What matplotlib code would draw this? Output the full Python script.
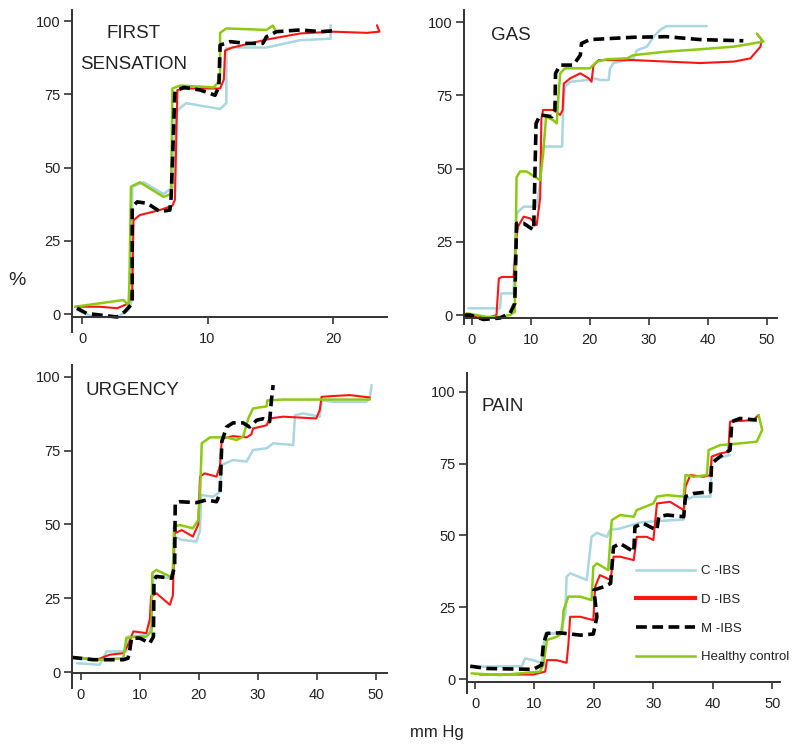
import matplotlib
matplotlib.use("Agg")
import matplotlib.pyplot as plt
from matplotlib.lines import Line2D

plt.rcParams['font.family'] = ['Liberation Sans', 'DejaVu Sans']

# ---------------- data (x = mm Hg, y = %) ----------------
series_labels = ["C -IBS", "D -IBS", "M -IBS", "Healthy control"]
panel_titles = ["FIRST\nSENSATION", "GAS", "URGENCY", "PAIN"]
y_ticks = [0, 25, 50, 75, 100]
x_ticks_first = [0, 10, 20]
x_ticks_other = [0, 10, 20, 30, 40, 50]

# FIRST SENSATION
fs_c_x = [-0.4, 0.9, 2.8, 3.7, 4.0, 4.0, 4.9, 6.5, 7.3, 7.4, 7.7, 8.3, 11.0, 11.5, 11.5, 12.0, 14.7, 17.4, 19.8, 19.8]
fs_c_y = [1.4, -1, -1, 1.4, 5, 43.5, 45, 41, 43.5, 68.5, 70, 72, 70, 72, 90.7, 91, 91, 93.5, 94, 98.6]
fs_d_x = [-0.56, 1.4, 2.8, 3.7, 4.0, 4.1, 4.6, 6.2, 7.2, 7.4, 7.6, 8.3, 11.0, 11.3, 11.4, 12.0, 14.7, 17.4, 20.0, 22.7, 23.7, 23.5]
fs_d_y = [2.5, 2.5, 2, 3.6, 8, 32, 33.8, 35.5, 37, 39, 76.5, 77, 77, 80, 90, 91, 93.7, 95.8, 96.4, 96, 96.4, 98.6]
fs_m_x = [-0.4, 0.37, 1.4, 2.8, 3.4, 4.0, 4.0, 4.4, 5.2, 6.2, 7.0, 7.1, 7.4, 8.1, 9.4, 10.6, 10.9, 11.0, 11.8, 13.1, 14.4, 14.7, 15.5, 17.4, 19.0, 20.0]
fs_m_y = [2, 0.2, -0.3, -1, 0.8, 3.6, 36.6, 38.3, 37.8, 35, 35.5, 40, 76, 77.4, 76.5, 74.7, 77.6, 91.8, 93, 92.4, 92.4, 94.7, 96.4, 97, 96.4, 96.7]
fs_h_x = [-0.56, 3.3, 3.7, 3.77, 3.9, 4.6, 6.5, 7.1, 7.2, 7.8, 10.5, 11.0, 11.0, 11.5, 14.7, 15.2, 15.4]
fs_h_y = [2.5, 4.8, 3, 10, 43.5, 45, 40, 41, 77, 78, 77.4, 80, 96, 97.5, 97, 98.5, 97]

# GAS
gas_c_x = [-0.56, 4.8, 5.0, 5.4, 7.1, 7.3, 7.6, 8.8, 11.0, 11.6, 11.8, 13.0, 15.3, 15.5, 15.8, 16.7, 19.5, 20.6, 21.8, 23.2, 23.4, 24.0, 25.1, 27.4, 28.0, 29.7, 30.8, 31.9, 33.0, 39.8]
gas_c_y = [2.3, 2.3, 7.4, 7.4, 7.4, 20, 34.7, 37, 37, 45, 57.5, 57.5, 57.5, 70, 78, 79.6, 80.2, 80.8, 80.2, 80.2, 84, 86, 86.5, 87.5, 90.4, 91.6, 95, 97.3, 98.6, 98.6]
gas_d_x = [-1.4, 2.5, 4.2, 4.6, 5.1, 7.1, 7.5, 7.8, 8.8, 9.9, 11.0, 11.6, 11.8, 12.1, 13.8, 15.0, 15.4, 15.6, 16.7, 18.4, 19.8, 20.3, 20.6, 21.5, 27.4, 33.0, 38.7, 44.4, 47.2, 48.9, 49.1, 48.3]
gas_d_y = [0, -1.1, 0, 12.5, 13, 13, 25, 30, 33.6, 33, 30.7, 40, 67, 70, 70, 68.3, 70, 79, 80.8, 82.5, 80.8, 79.6, 85, 87, 87, 86.5, 86, 86.5, 87.6, 91.6, 93.9, 96]
gas_m_x = [-1.4, -0.3, 2.0, 4.8, 6.5, 7.3, 7.6, 8.8, 10.5, 10.9, 11.6, 13.6, 14.1, 14.2, 15.0, 17.2, 18.4, 18.6, 20.0, 27.4, 33.0, 38.7, 46.0]
gas_m_y = [0, 0, -1.5, -1, 0.6, 4, 31.3, 31.3, 29, 65.4, 68.3, 67.7, 70, 82.5, 85.3, 85.3, 88.7, 92.7, 94, 94.8, 95, 94, 93.6]
gas_h_x = [-0.85, 2.5, 4.8, 6.5, 7.3, 7.6, 8.2, 9.3, 11.6, 12.1, 12.6, 13.8, 14.4, 14.7, 15.0, 15.8, 18.4, 20.0, 21.2, 22.9, 26.3, 27.4, 33.0, 38.7, 44.4, 49.4, 48.3]
gas_h_y = [0.6, -0.6, -0.6, 0, 1.1, 47, 49, 49, 46, 55, 67.7, 66.5, 65.4, 75, 82.5, 84.2, 84.2, 84.2, 86.5, 87.3, 87.6, 88.7, 89.9, 90.7, 91.6, 93.3, 96]

# URGENCY
urg_c_x = [-0.7, 3.2, 4.1, 4.4, 7.7, 7.9, 9.4, 11.7, 12.0, 12.3, 15.1, 15.6, 15.8, 17.1, 19.6, 20.2, 20.4, 22.4, 23.6, 23.8, 25.8, 28.1, 29.2, 31.5, 32.6, 36.0, 36.3, 37.7, 40.5, 40.8, 42.8, 48.4, 49.0, 49.3]
urg_c_y = [3, 2.5, 6, 7, 7, 12, 12, 13.2, 25, 32.4, 31.8, 34, 45.9, 44.8, 44.2, 48, 60, 59.4, 61, 70.1, 71.8, 71.3, 75.2, 75.8, 77.5, 76.9, 87, 87.6, 86.5, 92.1, 91.5, 91.5, 93.2, 97.2]
urg_d_x = [-0.2, 2.7, 4.9, 7.2, 8.0, 8.9, 11.1, 11.7, 11.9, 12.8, 15.1, 15.6, 15.9, 17.1, 19.0, 19.9, 20.2, 21.0, 23.0, 23.6, 23.9, 25.8, 28.1, 28.9, 29.2, 31.5, 32.0, 34.3, 39.9, 40.5, 40.8, 42.8, 45.6, 49.0]
urg_d_y = [4.7, 4.2, 5.9, 6.4, 9.2, 13.8, 13.2, 18, 25.6, 26.7, 22.8, 26, 47, 48.1, 45.9, 50, 66.2, 67.3, 66.2, 70, 79.1, 79.9, 79.5, 80.5, 82.5, 83.6, 85.9, 86.5, 85.9, 88.7, 93.2, 93.5, 93.8, 93]
urg_m_x = [-1.6, -0.2, 2.1, 7.2, 8.0, 8.3, 8.6, 10.0, 11.7, 12.3, 12.4, 12.8, 15.4, 15.9, 16.0, 16.8, 19.6, 21.3, 23.0, 23.6, 23.9, 24.7, 25.8, 27.5, 28.6, 29.8, 30.9, 32.0, 32.3, 32.6]
urg_m_y = [5, 4.7, 4.2, 4.2, 4.7, 7.6, 11.5, 11.5, 9.8, 12, 31.2, 32.4, 31.8, 36, 57.2, 57.7, 57.4, 58.3, 57.7, 60.5, 78, 83, 84.4, 84.4, 83, 85.3, 85.8, 84.8, 92, 97.2]
urg_h_x = [-1.0, 3.2, 7.2, 7.7, 9.4, 11.1, 12.0, 12.1, 12.8, 15.1, 15.6, 15.8, 16.8, 19.0, 19.9, 20.2, 20.5, 21.9, 24.7, 26.4, 27.5, 28.4, 29.2, 31.5, 31.6, 34.3, 42.8, 49.0]
urg_h_y = [5, 4.2, 4.7, 11.5, 12, 12, 14, 33.5, 34.6, 32.4, 33.5, 49.3, 49.8, 48.7, 51.5, 60, 77.5, 79.5, 79.5, 78.6, 79.7, 86, 89.3, 90, 92, 92.3, 92.3, 92.3]

# PAIN
pain_c_x = [-0.6, 7.9, 8.4, 9.8, 11.2, 11.8, 14.3, 15.2, 15.4, 16.0, 18.8, 19.6, 20.5, 22.2, 22.7, 24.4, 27.8, 30.6, 35.1, 35.4, 36.8, 39.6, 39.8, 42.9]
pain_c_y = [4.3, 4.5, 7.2, 6.6, 5.5, 15.9, 15.9, 22.9, 35.6, 36.8, 34.5, 49.5, 50.9, 49.5, 51.9, 52.4, 54.5, 55, 55.5, 62.3, 63.5, 63.5, 76.2, 78]
pain_d_x = [0.8, 9.8, 11.8, 12.1, 13.7, 15.4, 15.7, 16.0, 17.7, 19.9, 20.2, 21.0, 22.8, 23.3, 24.4, 26.7, 27.2, 28.9, 30.0, 30.6, 32.8, 35.1, 35.4, 36.2, 38.4, 39.6, 39.8, 41.2, 42.6, 42.9, 46.8, 47.7]
pain_d_y = [1.6, 1.6, 2.6, 6.6, 6.6, 5.7, 12, 21.7, 21.7, 20.5, 32.1, 36.2, 34.5, 42.6, 42.6, 41.4, 49.5, 49.5, 48.4, 61.1, 61.7, 58.8, 66.9, 71, 70.4, 71, 77.4, 78.5, 79.1, 89.6, 90.1, 91.9]
pain_m_x = [-0.8, 2.0, 9.8, 11.2, 11.5, 12.1, 14.3, 17.7, 19.9, 20.5, 20.0, 21.6, 22.8, 23.3, 24.4, 26.7, 26.9, 28.3, 30.0, 30.6, 30.9, 32.3, 35.1, 35.4, 36.8, 39.6, 39.8, 41.2, 42.9, 43.2, 44.6, 47.4]
pain_m_y = [4.5, 3.7, 3.4, 4.9, 12.4, 15.9, 16.1, 15.3, 15.7, 21.7, 31, 32.1, 33.3, 46, 47.2, 44.3, 53, 54.2, 52.4, 51.9, 56.5, 57.1, 56.5, 63.5, 64.6, 65.2, 75, 77.4, 79.7, 89.6, 90.7, 90.1]
pain_h_x = [-0.6, 4.2, 10.9, 11.5, 12.1, 13.7, 14.6, 14.9, 15.7, 17.7, 19.6, 19.9, 20.5, 22.4, 23.0, 24.4, 26.7, 27.2, 30.0, 30.6, 32.3, 35.1, 35.4, 36.8, 39.0, 39.3, 41.2, 43.5, 47.4, 48.3, 47.7]
pain_h_y = [2, 1.4, 2.6, 4.9, 13.6, 14.7, 15.9, 24, 28.7, 28.7, 27.5, 39.1, 40.3, 37.9, 55.3, 57.1, 56.5, 58.8, 61.1, 63.5, 64, 63.5, 71, 70.4, 71, 79.7, 81.4, 81.8, 82.6, 86.7, 91.9]

# ---------------- styling ----------------
styles = [
    dict(color="#a9d6df", lw=1.8, ls="-"),
    dict(color="#ff1414", lw=1.5, ls="-"),
    dict(color="#000000", lw=2.6, ls=(0, (3.0, 1.5))),
    dict(color="#8cc814", lw=1.8, ls="-"),
]
draw_order = [0, 1, 3, 2]
AX_COL = "#333333"
TXT_COL = "#222222"

W, H = 800, 756
fig = plt.figure(figsize=(W / 100, H / 100), dpi=100)
fig.patch.set_facecolor("white")


def px_axes(left, right, top, bottom):
    return fig.add_axes([left / W, 1 - bottom / H, (right - left) / W, (bottom - top) / H])


panels = [
    dict(box=(72, 387, 10, 317), xlim=(-0.8, 24.3), ylim=(-1.0, 103.8), spine_low=-6.0,
         xt=x_ticks_first,
         data=[(fs_c_x, fs_c_y), (fs_d_x, fs_d_y), (fs_m_x, fs_m_y), (fs_h_x, fs_h_y)],
         title_xy=(134, 49)),
    dict(box=(464, 777, 10, 318), xlim=(-1.3, 51.7), ylim=(-1.0, 104.1), spine_low=-3.0,
         xt=x_ticks_other,
         data=[(gas_c_x, gas_c_y), (gas_d_x, gas_d_y), (gas_m_x, gas_m_y), (gas_h_x, gas_h_y)],
         title_xy=(511, 35)),
    dict(box=(72, 387, 365, 673), xlim=(-1.5, 51.9), ylim=(-0.3, 104.0), spine_low=-5.3,
         xt=x_ticks_other,
         data=[(urg_c_x, urg_c_y), (urg_d_x, urg_d_y), (urg_m_x, urg_m_y), (urg_h_x, urg_h_y)],
         title_xy=(132, 390)),
    dict(box=(467, 780, 373, 682), xlim=(-1.35, 51.3), ylim=(-1.0, 106.5), spine_low=-4.9,
         xt=x_ticks_other,
         data=[(pain_c_x, pain_c_y), (pain_d_x, pain_d_y), (pain_m_x, pain_m_y), (pain_h_x, pain_h_y)],
         title_xy=(503, 406)),
]

for p, title in zip(panels, panel_titles):
    ax = px_axes(*p["box"])
    ax.set_xlim(*p["xlim"])
    ax.set_ylim(*p["ylim"])
    for i in draw_order:
        xs, ys = p["data"][i]
        ax.plot(xs, ys, label=series_labels[i], clip_on=False,
                solid_joinstyle="round", solid_capstyle="round", **styles[i])
    ax.spines["top"].set_visible(False)
    ax.spines["right"].set_visible(False)
    for s in ("left", "bottom"):
        ax.spines[s].set_color(AX_COL)
        ax.spines[s].set_linewidth(1.4)
    ax.spines["left"].set_bounds(p["spine_low"], p["ylim"][1])
    ax.set_xticks(p["xt"])
    ax.set_yticks(y_ticks)
    ax.tick_params(axis="x", direction="out", length=5, width=1.2, color=AX_COL,
                   pad=6, labelsize=10.5, labelcolor=TXT_COL)
    ax.tick_params(axis="y", direction="out", length=6, width=1.2, color=AX_COL,
                   pad=2, labelsize=10.5, labelcolor=TXT_COL)
    ax.patch.set_alpha(0)
    fig.text(p["title_xy"][0] / W, 1 - p["title_xy"][1] / H, title,
             ha="center", va="center", fontsize=13.5, color=TXT_COL, linespacing=2.1)

# legend in PAIN panel
handles = [Line2D([], [], **styles[0]),
           Line2D([], [], color=styles[1]["color"], lw=3.0),
           Line2D([], [], **styles[2]),
           Line2D([], [], **styles[3])]
fig.legend(handles, series_labels, loc="upper left",
           bbox_to_anchor=(636 / W, 1 - 565 / H), bbox_transform=fig.transFigure,
           frameon=False, fontsize=9.5, handlelength=4.5, handletextpad=0.45,
           labelspacing=1.25, borderpad=0, borderaxespad=0, labelcolor=TXT_COL)

fig.text(17 / W, 1 - 281 / H, "%", ha="center", va="center", fontsize=14, color=TXT_COL)
fig.text(437 / W, 1 - 733 / H, "mm Hg", ha="center", va="center", fontsize=12, color=TXT_COL)

fig.savefig("out.png", dpi=100, facecolor="white")
